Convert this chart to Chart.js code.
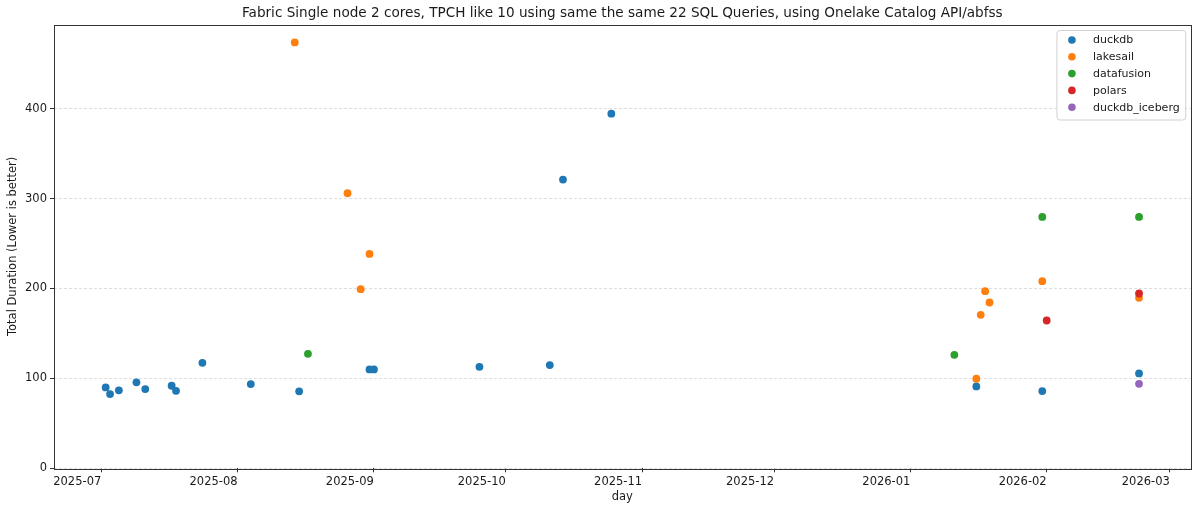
<!DOCTYPE html>
<html>
<head>
<meta charset="utf-8">
<script src="https://cdn.jsdelivr.net/npm/chart.js@4.4.1/dist/chart.umd.min.js"></script>
<style>
  body { margin: 0; background: #fff; }
  #wrap { width: 1198px; height: 511px; }
</style>
</head>
<body>
<div id="wrap"><canvas id="chart" width="1198" height="511"></canvas></div>
<script>
// values
const chartTitle = 'Fabric Single node 2 cores, TPCH like 10 using same the same 22 SQL Queries, using Onelake Catalog API/abfss';
const seriesNames = ['duckdb', 'lakesail', 'datafusion', 'polars', 'duckdb_iceberg'];
const seriesColors = ['#1f77b4', '#ff7f0e', '#2ca02c', '#d62728', '#9467bd'];

const duckdbDates = ['2025-07-02', '2025-07-03', '2025-07-05', '2025-07-09', '2025-07-11', '2025-07-17',
    '2025-07-18', '2025-07-24', '2025-08-04', '2025-08-15', '2025-08-31', '2025-09-01', '2025-09-25',
    '2025-10-11', '2025-10-14', '2025-10-25', '2026-01-16', '2026-01-31', '2026-02-22'];
const duckdbValues = [90, 82.6, 86.7, 95.6, 88.1, 91.8, 86.2, 117.3, 93.7, 85.6, 110, 110, 112.9,
    114.8, 321.1, 394.4, 91.1, 85.9, 105.5];

const lakesailDates = ['2025-08-14', '2025-08-26', '2025-08-29', '2025-08-31', '2026-01-16', '2026-01-17',
    '2026-01-18', '2026-01-19', '2026-01-31', '2026-02-22'];
const lakesailValues = [473.7, 305.9, 199.2, 238.4, 99.6, 170.7, 197, 184.4, 208.1, 189.6];

const datafusionDates = ['2025-08-17', '2026-01-11', '2026-01-31', '2026-02-22'];
const datafusionValues = [127.3, 126.2, 279.6, 279.6];

const polarsDates = ['2026-02-01', '2026-02-22'];
const polarsValues = [164.4, 194.4];

const icebergDates = ['2026-02-22'];
const icebergValues = [94];

const monthTicks = ['2025-07-01', '2025-08-01', '2025-09-01', '2025-10-01', '2025-11-01',
    '2025-12-01', '2026-01-01', '2026-02-01', '2026-03-01'];
const monthLabels = ['2025-07', '2025-08', '2025-09', '2025-10', '2025-11', '2025-12', '2026-01', '2026-02', '2026-03'];
const yTicks = [0, 100, 200, 300, 400];

const DAY0 = Date.UTC(2025, 6, 1);
function toDay(s) {
    const p = s.split('-').map(Number);
    return (Date.UTC(p[0], p[1] - 1, p[2]) - DAY0) / 86400000;
}
function points(dates, values) {
    return dates.map((d, i) => ({ x: toDay(d), y: values[i] }));
}

const allSeries = [
    points(duckdbDates, duckdbValues),
    points(lakesailDates, lakesailValues),
    points(datafusionDates, datafusionValues),
    points(polarsDates, polarsValues),
    points(icebergDates, icebergValues)
];

const FONT = "'DejaVu Sans', sans-serif";
const TEXT = '#1a1a1a';

// matplotlib style frame on all four sides
const framePlugin = {
    id: 'frame',
    beforeDatasetsDraw(chart) {
        const a = chart.chartArea, ctx = chart.ctx;
        ctx.save();
        ctx.strokeStyle = '#333';
        ctx.lineWidth = 1;
        ctx.strokeRect(Math.round(a.left) + 0.5, Math.round(a.top) + 0.5,
            Math.round(a.right - a.left), Math.round(a.bottom - a.top));
        ctx.restore();
    }
};

// title centred over the plot area, like matplotlib
const axTitlePlugin = {
    id: 'axTitle',
    afterDraw(chart) {
        const a = chart.chartArea, ctx = chart.ctx;
        ctx.save();
        ctx.font = '13.6px ' + FONT;
        ctx.fillStyle = TEXT;
        ctx.textAlign = 'center';
        ctx.textBaseline = 'middle';
        ctx.fillText(chartTitle, (a.left + a.right) / 2, 13);
        ctx.restore();
    }
};

// legend box inside the plot, top right
const legendPlugin = {
    id: 'boxLegend',
    afterDraw(chart) {
        const a = chart.chartArea, ctx = chart.ctx;
        const sets = chart.data.datasets;
        const rowH = 16.8;
        ctx.save();
        ctx.font = '11px ' + FONT;
        let maxW = 0;
        sets.forEach(ds => { maxW = Math.max(maxW, ctx.measureText(ds.label).width); });
        const w = 36 + maxW + 6;
        const h = sets.length * rowH + 5.5;
        const x = a.right - 5.5 - w;
        const y = a.top + 5.5;
        ctx.beginPath();
        ctx.roundRect(x + 0.5, y + 0.5, w, h, 3);
        ctx.fillStyle = 'rgba(255,255,255,0.8)';
        ctx.fill();
        ctx.strokeStyle = '#d0d0d0';
        ctx.lineWidth = 1;
        ctx.stroke();
        ctx.textBaseline = 'middle';
        ctx.textAlign = 'left';
        sets.forEach((ds, i) => {
            const cy = y + 10 + i * rowH;
            ctx.beginPath();
            ctx.arc(x + 15.5, cy, 3.8, 0, Math.PI * 2);
            ctx.fillStyle = ds.backgroundColor;
            ctx.fill();
            ctx.fillStyle = TEXT;
            ctx.fillText(ds.label, x + 36.5, cy + 0.5);
        });
        ctx.restore();
    }
};

new Chart(document.getElementById('chart'), {
    type: 'scatter',
    data: {
        datasets: seriesNames.map((name, i) => ({
            label: name,
            data: allSeries[i],
            backgroundColor: seriesColors[i],
            borderColor: seriesColors[i],
            borderWidth: 0,
            pointRadius: 3.9,
            pointHoverRadius: 3.9,
            order: seriesNames.length - i
        }))
    },
    options: {
        responsive: false,
        devicePixelRatio: 1,
        animation: false,
        layout: { padding: { left: 0, right: 7.3, top: 24.5, bottom: 0 } },
        plugins: {
            legend: { display: false },
            tooltip: { enabled: false },
            title: { display: false }
        },
        scales: {
            x: {
                type: 'linear',
                min: -10.75,
                max: 247.75,
                afterBuildTicks: scale => { scale.ticks = monthTicks.map(d => ({ value: toDay(d) })); },
                afterFit: scale => { scale.height = 42.7; },
                ticks: {
                    autoSkip: false,
                    maxRotation: 0,
                    align: 'end',
                    padding: 3,
                    color: TEXT,
                    font: { family: FONT, size: 11.5 },
                    callback: (v, i) => monthLabels[i]
                },
                grid: { drawOnChartArea: false, drawTicks: true, tickLength: 4, tickColor: '#333' },
                border: { display: false },
                title: {
                    display: true,
                    text: 'day',
                    color: TEXT,
                    font: { family: FONT, size: 11.5 },
                    padding: { top: 0, bottom: 7 }
                }
            },
            y: {
                min: 0,
                max: 493.6,
                afterBuildTicks: scale => { scale.ticks = yTicks.map(v => ({ value: v })); },
                afterFit: scale => { scale.width = 54; },
                ticks: {
                    padding: 3,
                    color: TEXT,
                    font: { family: FONT, size: 11.5 }
                },
                grid: {
                    color: '#d6d6d6',
                    lineWidth: 0.8,
                    tickLength: 4,
                    tickColor: '#333',
                    tickWidth: 1,
                    tickBorderDash: []
                },
                border: { display: false, dash: [3, 2] },
                title: {
                    display: true,
                    text: 'Total Duration (Lower is better)',
                    color: TEXT,
                    font: { family: FONT, size: 11.5 },
                    padding: { top: 6.5, bottom: 0 }
                }
            }
        }
    },
    plugins: [framePlugin, axTitlePlugin, legendPlugin]
});
</script>
</body>
</html>
